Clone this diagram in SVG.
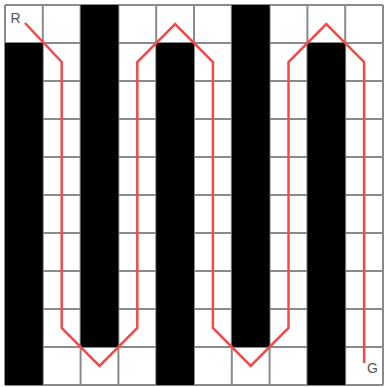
<svg xmlns="http://www.w3.org/2000/svg" width="384" height="387" viewBox="0 0 384 387">
<style>
.g{stroke:#8a8a8a;stroke-width:2;fill:none}
.b{fill:#000}
.p{stroke:#f24a4a;stroke-width:2.5;fill:none;stroke-linejoin:miter}
.t{font-family:"Liberation Sans",Arial,sans-serif;font-size:14px;fill:#555}
</style>
<rect width="384" height="387" fill="#fff"/>
<g id="grid" class="g">
<path d="M5 5V385M42.8 5V385M80.6 5V385M118.4 5V385M156.2 5V385M194 5V385M231.8 5V385M269.6 5V385M307.4 5V385M345.2 5V385M383 5V385"/>
<path d="M5 5H383M5 43H383M5 81H383M5 119H383M5 157H383M5 195H383M5 233H383M5 271H383M5 309H383M5 347H383M5 385H383"/>
</g>
<g id="walls">
<rect class="b" x="5" y="43" width="37.8" height="342"/>
<rect class="b" x="80.6" y="5" width="37.8" height="342"/>
<rect class="b" x="156.2" y="43" width="37.8" height="342"/>
<rect class="b" x="231.8" y="5" width="37.8" height="342"/>
<rect class="b" x="307.4" y="43" width="37.8" height="342"/>
</g>
<g id="connectors">
<path class="p" d="M25 23L61.7 62V328L99.5 366L137.3 328V62L175.1 24L212.9 62V328L250.7 366L288.5 328V62L326.3 24L364.1 62V363"/>
</g>
<g id="start"><text class="t" x="10.5" y="23">R</text></g>
<g id="goal"><text class="t" x="367" y="373">G</text></g>
</svg>
